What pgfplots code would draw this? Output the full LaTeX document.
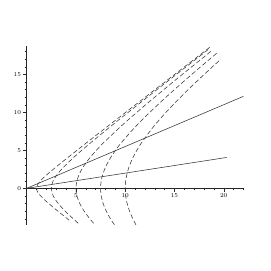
\documentclass[border=0pt]{standalone}
\usepackage{pgfplots}
\pgfplotsset{compat=1.18}
\begin{document}
\begin{tikzpicture}[x=1bp,y=1bp]
\useasboundingbox (0,0) rectangle (271,271);
\begin{axis}[at={(26.7bp,46.2bp)}, anchor=south west, scale only axis,
  width=216.7bp, height=178.6bp,
  xmin=0, xmax=22, ymin=-4.8, ymax=18.7,
  axis lines=middle, axis line style={-, line width=0.6bp, black!85},
  xtick={5,10,15,20}, ytick={0,5,10,15},
  minor xtick={1,...,22}, minor ytick={-4,...,18},
  hide obscured x ticks=false, hide obscured y ticks=false,
  tick align=outside, major tick length=4bp, minor tick length=2bp,
  tick style={black!85, line width=0.4bp},
  ticklabel style={font=\fontsize{6.5}{7}\selectfont, inner sep=1.5pt},
  clip=false]
\pgfplotsset{hyp/.style={black!80, line width=0.55bp, dash pattern=on 4.5bp off 2.5bp, smooth, no markers}}
\addplot[hyp] coordinates {(4.317,-4.2)(3.162,-3)(2.236,-2)(1.803,-1.5)(1.414,-1)(1.118,-0.5)(1,0)(1.118,0.5)(1.414,1)(1.803,1.5)(2.236,2)(3.162,3)(4.123,4)(6.083,6)(8.062,8)(10.05,10)(12.042,12)(14.036,14)(16.031,16)(18.627,18.6)};
\addplot[hyp] coordinates {(5.235,-4.6)(4.717,-4)(3.905,-3)(3.202,-2)(2.693,-1)(2.5,0)(2.693,1)(3.202,2)(3.905,3)(4.717,4)(5.590,5)(6.5,6)(8.382,8)(10.308,10)(12.258,12)(14.221,14)(16.194,16)(18.569,18.4)};
\addplot[hyp] coordinates {(6.794,-4.6)(6.403,-4)(5.831,-3)(5.385,-2)(5.099,-1)(5,0)(5.099,1)(5.385,2)(5.831,3)(6.403,4)(7.071,5)(7.810,6)(9.434,8)(11.180,10)(13,12)(14.866,14)(16.763,16)(18.874,18.2)};
\addplot[hyp] coordinates {(8.905,-4.8)(8.5,-4)(8.078,-3)(7.762,-2)(7.566,-1)(7.5,0)(7.566,1)(7.762,2)(8.078,3)(8.5,4)(9.014,5)(9.605,6)(10.966,8)(12.5,10)(14.151,12)(15.882,14)(17.671,16)(19.362,17.85)};
\addplot[hyp] coordinates {(11.092,-4.8)(10.770,-4)(10.440,-3)(10.198,-2)(10.050,-1)(10,0)(10.050,1)(10.198,2)(10.440,3)(10.770,4)(11.180,5)(11.662,6)(12.806,8)(14.142,10)(15.620,12)(17.205,14)(18.868,16)(19.723,17)};
\addplot[black!80, line width=0.55bp, no markers] coordinates {(0,0)(20.3,4.06)};
\addplot[black!80, line width=0.55bp, no markers] coordinates {(0,0)(22,12.1)};
\end{axis}
\end{tikzpicture}
\end{document}
